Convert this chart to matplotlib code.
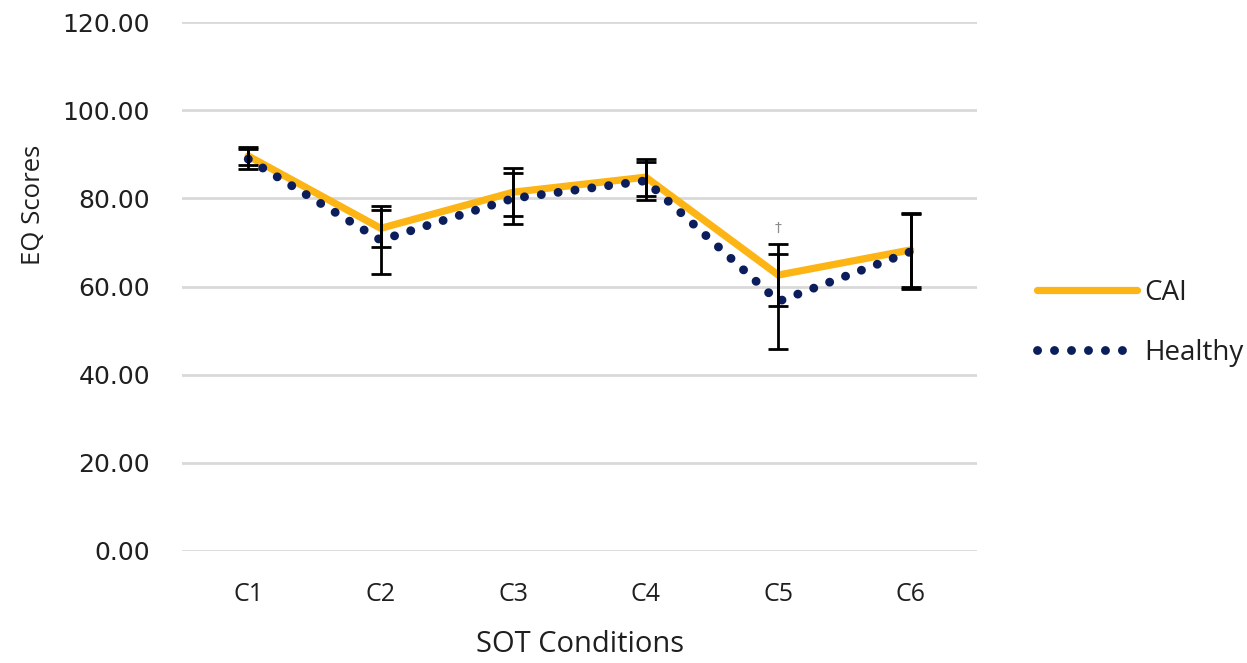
import matplotlib
matplotlib.use("Agg")
import matplotlib.pyplot as plt

conditions = ["C1", "C2", "C3", "C4", "C5", "C6"]
cai_mean = [89.6, 73.2, 81.4, 84.8, 62.6, 68.3]
cai_err = [2.0, 4.2, 5.4, 4.2, 7.0, 8.3]
healthy_mean = [88.9, 70.5, 80.0, 84.0, 56.6, 67.9]
healthy_err = [2.2, 7.7, 5.8, 4.3, 10.8, 8.5]
y_ticks = [0, 20, 40, 60, 80, 100, 120]
y_tick_labels = ["0.00", "20.00", "40.00", "60.00", "80.00", "100.00", "120.00"]

W, H = 1247, 663
fig = plt.figure(figsize=(W / 100, H / 100), dpi=100)
ax = fig.add_axes([182 / W, 1 - 551 / H, (977 - 182) / W, (551 - 22) / H])

x = list(range(len(conditions)))
orange = "#FDB515"
navy = "#0B1E5B"
text_col = "#1f1f1f"

ax.plot(x, cai_mean, color=orange, lw=5.2, solid_capstyle="round",
        solid_joinstyle="miter", label="CAI", zorder=3)
ax.plot(x, healthy_mean, color=navy, lw=6.4, linestyle=(0, (0.01, 1.9)),
        dash_capstyle="round", label="Healthy", zorder=4)

ax.errorbar(x, cai_mean, yerr=cai_err, fmt="none", ecolor="black",
            elinewidth=2.0, capsize=7, capthick=2.0, zorder=5)
ax.errorbar(x, healthy_mean, yerr=healthy_err, fmt="none", ecolor="black",
            elinewidth=2.0, capsize=7, capthick=2.0, zorder=5)

ax.text(4, 73.3, "†", color="#8c8c8c", fontsize=10, ha="center", va="center",
        family="DejaVu Sans")

ax.set_xlim(-0.5, 5.5)
ax.set_ylim(0, 120)
ax.set_yticks(y_ticks)
ax.set_yticklabels(y_tick_labels, family="DejaVu Sans", fontsize=18,
                   color=text_col)
ax.set_xticks(x)
ax.set_xticklabels(conditions, family="Open Sans", fontsize=18,
                   color=text_col)
ax.tick_params(axis="both", length=0)
ax.tick_params(axis="y", pad=23)
ax.tick_params(axis="x", pad=22)
ax.grid(axis="y", color="#d9d9d9", lw=2)
ax.set_axisbelow(True)
for s in ax.spines.values():
    s.set_visible(False)

ax.set_ylabel("EQ Scores", family="Open Sans", fontsize=18.5, color=text_col)
ax.set_xlabel("SOT Conditions", family="Open Sans", fontsize=21, color=text_col)
ax.yaxis.set_label_coords(33 / W, 1 - 205 / H, transform=fig.transFigure)
ax.xaxis.set_label_coords(580 / W, 1 - 645 / H, transform=fig.transFigure)
ax.xaxis.label.set_va("center")
ax.yaxis.label.set_va("center")

leg = ax.legend(loc="center left", bbox_to_anchor=(1026 / W, 1 - 323 / H),
                bbox_transform=fig.transFigure, frameon=False,
                prop={"family": "Open Sans", "size": 20}, handlelength=3.6,
                handletextpad=0.25, labelspacing=1.15, borderaxespad=0)
for t in leg.get_texts():
    t.set_color(text_col)

fig.savefig("out.png", dpi=100)
